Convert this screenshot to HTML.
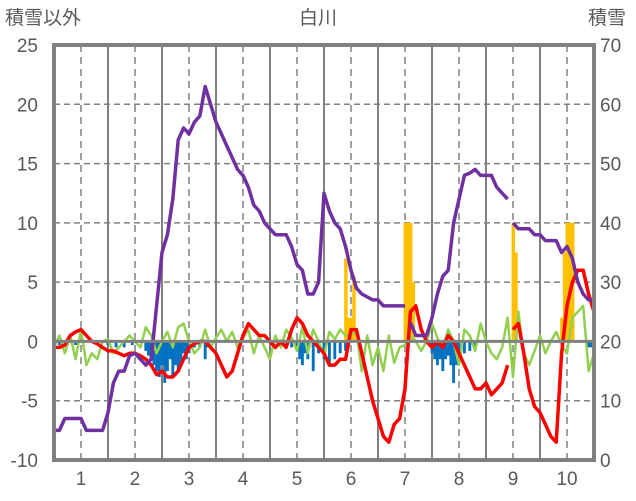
<!DOCTYPE html>
<html><head><meta charset="utf-8"><style>
html,body{margin:0;padding:0;background:#fff;}
svg{display:block;font-family:"Liberation Sans","Noto Sans CJK JP",sans-serif;}
</style></head><body>
<svg id="chart" width="636" height="501">
<text x="5" y="24" font-size="19" fill="#595959">積雪以外</text>
<text x="318" y="24" font-size="19" fill="#595959" text-anchor="middle">白川</text>
<text x="588" y="24" font-size="19" fill="#595959">積雪</text>
<g id="grid"></g><g id="bars"></g><g id="lines"></g><g id="axes"></g>
</svg>
<script>
const monthLabels=[1,2,3,4,5,6,7,8,9,10];
const leftTicks=[-10,-5,0,5,10,15,20,25];
const rightTicks=[0,10,20,30,40,50,60,70];
const purpleX=[0.5,0.6,0.7,0.9,1.0,1.1,1.3,1.4,1.5,1.6,1.7,1.8,1.9,2.0,2.1,2.2,2.3,2.4,2.5,2.6,2.7,2.8,2.9,3.0,3.1,3.2,3.3,3.4,3.5,3.6,3.7,3.8,3.9,4.0,4.1,4.2,4.3,4.4,4.5,4.6,4.8,4.9,5.0,5.1,5.2,5.3,5.4,5.5,5.6,5.7,5.8,5.9,6.0,6.1,6.2,6.4,6.5,6.6,6.8,7.0,7.05,7.1,7.2,7.4,7.5,7.6,7.7,7.8,7.9,8.0,8.1,8.2,8.3,8.4,8.6,8.7,8.8,8.9,8.95,9.0,9.1,9.3,9.4,9.5,9.6,9.8,9.9,10.0,10.1,10.2,10.3,10.4,10.5];
const purpleY=[-7.5,-7.5,-6.5,-6.5,-6.5,-7.5,-7.5,-7.5,-6,-3.5,-2.5,-2.5,-1.2,-1,-1.5,-2,-1.5,3,7.5,9,12,17,18,17.5,18.5,19,21.5,20,18.5,17.5,16.5,15.5,14.5,14,13,11.5,11,10,9.5,9,9,8,6.5,6,4,4,5,12.5,11,10,9.5,8,6,4.5,4,3.5,3.5,3,3,3,null,1.6,0.5,0.5,2,4,5.5,6,10,12,14,14.2,14.5,14,14,13,12.5,12,null,10,9.5,9.5,9,9,8.5,8.5,7.5,8,7,5,4,3.5,3.5];
const redX=[0.5,0.6,0.7,0.8,0.9,1.0,1.1,1.2,1.3,1.4,1.5,1.6,1.7,1.8,1.9,2.0,2.1,2.2,2.3,2.4,2.5,2.6,2.7,2.8,2.9,3.0,3.1,3.2,3.3,3.4,3.5,3.6,3.7,3.8,3.9,4.0,4.1,4.2,4.3,4.4,4.5,4.6,4.7,4.8,4.9,5.0,5.1,5.2,5.3,5.4,5.5,5.6,5.7,5.8,5.9,6.0,6.1,6.2,6.3,6.4,6.5,6.6,6.7,6.8,6.9,7.0,7.1,7.2,7.3,7.4,7.5,7.6,7.7,7.8,7.9,8.0,8.1,8.2,8.3,8.4,8.5,8.6,8.7,8.8,8.9,8.95,9.0,9.1,9.2,9.3,9.4,9.5,9.6,9.7,9.8,9.9,10.0,10.1,10.2,10.3,10.4,10.5];
const redY=[-0.5,-0.5,-0.3,0.5,0.8,1,0.5,0,-0.2,-0.5,-0.8,-0.8,-1,-1.2,-1,-1,-1.2,-1.5,-2,-2.8,-2.5,-3,-3,-2.5,-1.5,-0.5,-0.2,0,0,-0.5,-1,-2,-3,-2.5,-1,0.5,1.5,1,0.5,0.5,0,-0.5,0,-0.5,1,2,1.5,0.5,0,-0.5,-1,-2,-2,-1.5,-1.5,1,1,-1,-3,-5,-6.5,-8,-8.5,-7,-6.5,-4,2.5,3,1,0,-0.5,0,-0.5,0.5,0,-1,-2,-3,-4,-4,-3.5,-4.5,-4,-3.5,-2,null,1,1.5,-1,-4,-5.5,-6,-7,-8,-8.5,-1,3,5,6,6,4,2.5];
const greenY=[-0.5,0.5,-1,0.5,-1.5,1,-2,-1,-1.5,0,0.2,-1,-0.5,0,0.5,0,-0.5,1.2,0.5,-1,0,0.8,-0.5,1.2,1.5,0,-1,-0.5,1,-0.5,0.3,1,0,0.8,-0.5,0.3,1,-1,0.5,-0.5,-1.5,0.5,-0.5,1,0.3,-0.8,1.2,-1,1,0,-1.2,0.8,0.2,1,0.5,0.6,0.8,-2.5,0.5,-2,-0.5,-2.5,0.5,-1.8,-0.5,-0.3,0.5,0,-0.8,0,1.5,0.3,-0.5,1,0,-2,1,0.5,-0.8,1.5,0,-1,-1.5,-0.5,2,-3,2.5,-1,-2,-0.8,0.5,-1,0,0.8,-0.3,-1,2,2.5,3,-2.5,-1];
const blueX=[0.6,0.75,0.9,1.3,1.5,1.65,1.8,1.95,2.2,2.25,2.3,2.35,2.4,2.45,2.5,2.55,2.6,2.65,2.7,2.75,2.8,2.85,2.9,2.95,3.0,3.1,3.2,3.3,3.35,4.9,5.0,5.05,5.1,5.15,5.2,5.3,5.4,5.5,5.6,5.7,5.8,5.9,7.5,7.55,7.6,7.65,7.7,7.75,7.8,7.85,7.9,7.95,8.0,8.1,8.2,8.3,10.4,10.45];
const blueY=[-0.3,-0.3,-0.3,-0.3,-0.3,-0.5,-0.5,-0.3,-0.8,-1.2,-1.5,-2,-2.5,-3,-2,-3.5,-2.5,-1.5,-3,-2,-2.5,-2,-1,-1.5,-1,-0.5,-0.5,-1.5,-0.5,-0.5,-0.5,-1.5,-2,-1,-1.5,-2.5,-1,-1.5,-2,-1.5,-1,-0.8,-1,-1.5,-2,-1.5,-2.5,-1.5,-1.2,-2,-3.5,-2,-1.5,-1,-0.8,-0.5,-0.5,-0.5];
const orangeX=[5.9,5.95,6.0,6.05,7.0,7.05,7.1,7.15,9.0,9.05,9.9,9.95,10.0,10.05,10.1];
const orangeY=[34,24,24,31,40,40,40,30,40,35,24,35,40,40,40];
const X0=54,X1=594,Y0=45,Y1=460;
const xs=v=>X0+(v-0.5)/10*(X1-X0);
const yl=v=>Y1-(v+10)/35*(Y1-Y0);
const yr=v=>Y1-v/70*(Y1-Y0);
const NS="http://www.w3.org/2000/svg";
function mk(p,t,a){const e=document.createElementNS(NS,t);for(const k in a)e.setAttribute(k,a[k]);document.getElementById(p).appendChild(e);return e;}
const g="#808080";
leftTicks.forEach(t=>{if(t>-10&&t<25&&t!==0){const l=mk('grid','line',{x1:X0,x2:X1,y1:yl(t),y2:yl(t),stroke:g,'stroke-width':1.5,'stroke-dasharray':'6,4'});

}
const tx=mk('axes','text',{x:38,y:yl(t)+7,'font-size':19,fill:'#595959','text-anchor':'end'});tx.textContent=t;

});
rightTicks.forEach(t=>{const tx=mk('axes','text',{x:600,y:yr(t)+7,'font-size':19,fill:'#595959'});tx.textContent=t;

});
monthLabels.forEach(m=>{const l=mk('grid','line',{x1:xs(m),x2:xs(m),y1:Y0,y2:Y1,stroke:g,'stroke-width':1.5,'stroke-dasharray':'7,5'});


if(m<10){const s=mk('grid','line',{x1:xs(m+0.5),x2:xs(m+0.5),y1:Y0,y2:Y1,stroke:g,'stroke-width':2});

}
const tx=mk('axes','text',{x:xs(m),y:485,'font-size':19,fill:'#595959','text-anchor':'middle'});tx.textContent=m;

});
const bw=(X1-X0)/300*1.6;
blueX.forEach((x,i)=>{const r=mk('bars','rect',{x:xs(x)-bw/2,y:yl(0),width:bw,height:yl(blueY[i])-yl(0),fill:'#0070C0'});

});
orangeX.forEach((x,i)=>{const r=mk('bars','rect',{x:xs(x)-bw/2,y:yr(orangeY[i]),width:bw+0.6,height:yr(20)-yr(orangeY[i]),fill:'#FFC000'});

});
function path(X,Y){let d='',pen=false;X.forEach((x,i)=>{const v=Y[i];if(v===null||v===undefined){pen=false;return;}d+=(pen?'L':'M')+xs(x).toFixed(1)+','+yl(v).toFixed(1);pen=true;});return d;}
const gX=greenY.map((_,i)=>0.5+i*0.1);
const gp=mk('lines','path',{d:path(gX,greenY),fill:'none',stroke:'#92D050','stroke-width':2.5,'stroke-linejoin':'round'});


const rp=mk('lines','path',{d:path(redX,redY),fill:'none',stroke:'#FF0000','stroke-width':3.5,'stroke-linejoin':'round'});


const pp=mk('lines','path',{d:path(purpleX,purpleY),fill:'none',stroke:'#7030A0','stroke-width':3.5,'stroke-linejoin':'round'});


const z=mk('axes','line',{x1:X0,x2:X1,y1:yl(0),y2:yl(0),stroke:g,'stroke-width':3});


const b=mk('axes','rect',{x:X0,y:Y0,width:X1-X0,height:Y1-Y0,fill:'none',stroke:g,'stroke-width':4});


</script>
</body></html>
